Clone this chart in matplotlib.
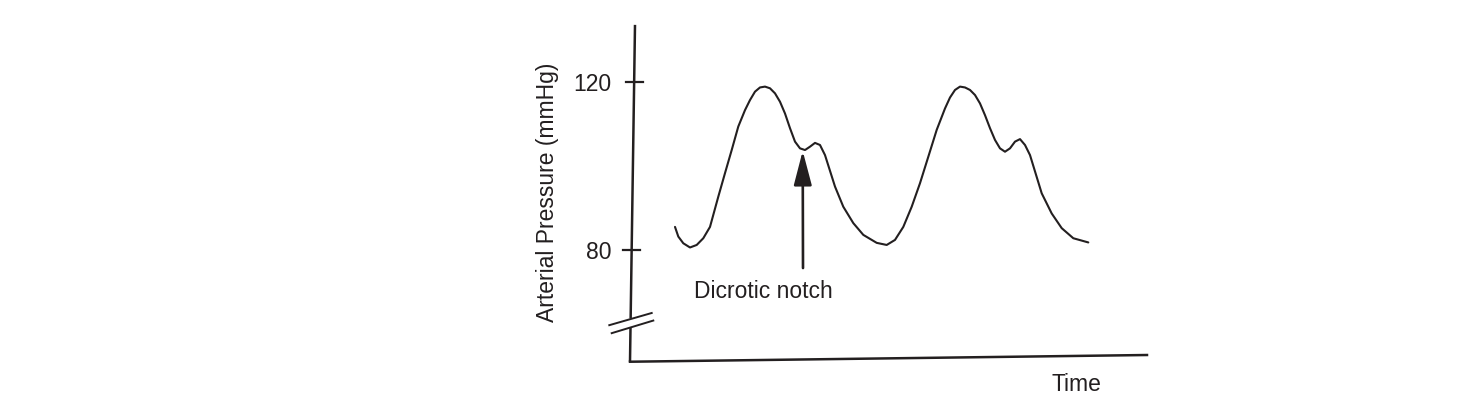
import matplotlib
matplotlib.use("Agg")
import matplotlib.pyplot as plt

plt.rcParams['font.family'] = ['Liberation Sans', 'DejaVu Sans']

# ---- data (time in arbitrary units, pressure in mmHg) ----
time = [0.45, 0.483, 0.533, 0.60, 0.667, 0.733, 0.80, 0.883, 0.95, 1.017,
        1.083, 1.15, 1.20, 1.25, 1.30, 1.35, 1.40, 1.45, 1.50,
        1.55, 1.60, 1.65, 1.70, 1.75, 1.80, 1.85, 1.90, 1.95, 2.05,
        2.133, 2.233, 2.333, 2.467, 2.567, 2.65, 2.733, 2.817, 2.90, 2.983,
        3.067, 3.15, 3.20, 3.25, 3.30, 3.35, 3.40, 3.45, 3.50,
        3.55, 3.60, 3.65, 3.70, 3.75, 3.80, 3.85, 3.90, 3.95, 4.00,
        4.117, 4.217, 4.317, 4.433, 4.583]
pressure = [85.5, 83.2, 81.6, 80.6, 81.2, 82.8, 85.5, 92.7, 98.3, 103.8,
            109.4, 113.3, 115.7, 117.7, 118.7, 118.9, 118.5, 117.3, 115.3,
            112.5, 109.0, 105.8, 104.2, 103.8, 104.6, 105.5, 105.0, 102.6, 95.1,
            90.3, 86.4, 83.6, 81.7, 81.2, 82.4, 85.5, 90.3, 95.9, 102.2,
            108.6, 113.7, 116.3, 118.1, 118.9, 118.7, 118.1, 116.9, 114.9,
            112.1, 109.0, 106.2, 104.2, 103.4, 104.2, 105.8, 106.4, 105.0, 102.6,
            93.5, 88.7, 85.2, 82.8, 81.8]
y_ticks = [80, 120]
y_tick_labels = ["80", "120"]
notch_time = 1.727
notch_pressure = 103.6
y_label = "Arterial Pressure (mmHg)"
x_label = "Time"
annotation = "Dicrotic notch"

ink = '#231f20'
fs = 16.5

fig = plt.figure(figsize=(14.64, 4.12), dpi=100)
ax = fig.add_axes([0, 0, 1, 1])
ax.set_xlim(-6.30, 8.34)
ax.set_ylim(41.43, 139.52)
ax.axis('off')

# hand-drawn style axes (slightly slanted)
ax_top = (0.05, 133.6)
ax_bot = (0.0, 53.4)
def axis_t(v):
    return ax_bot[0] + (v - ax_bot[1]) / (ax_top[1] - ax_bot[1]) * (ax_top[0] - ax_bot[0])

ax.plot([ax_top[0], axis_t(63.7)], [ax_top[1], 63.7], color=ink, lw=1.8, solid_capstyle='butt')
ax.plot([axis_t(61.6), ax_bot[0]], [61.6, ax_bot[1]], color=ink, lw=1.8, solid_capstyle='butt')
ax.plot([ax_bot[0], 5.17], [ax_bot[1], 55.0], color=ink, lw=1.8, solid_capstyle='projecting')

# axis break marks
ax.plot([-0.207, 0.217], [62.1, 65.0], color=ink, lw=1.4)
ax.plot([-0.183, 0.233], [60.2, 63.2], color=ink, lw=1.4)

# ticks and labels
for v, lab in zip(y_ticks, y_tick_labels):
    xt = axis_t(v)
    ax.plot([xt - 0.085, xt + 0.085], [v, v], color=ink, lw=1.6)
    ax.text(-0.185, v - 0.6, lab, ha='right', va='center', fontsize=fs, color=ink)

# waveform
ax.plot(time, pressure, color=ink, lw=1.5, solid_joinstyle='round', solid_capstyle='round')

# annotation arrow
ax.annotate("", xy=(notch_time, notch_pressure), xytext=(notch_time + 0.003, 75.7),
            arrowprops=dict(arrowstyle='-|>,head_length=2.1,head_width=0.55',
                            mutation_scale=10, color=ink, lw=1.9,
                            shrinkA=0, shrinkB=0))
ax.text(1.33, 70.0, annotation, ha='center', va='center', fontsize=fs, color=ink)

ax.text(-0.82, 93.7, y_label, ha='center', va='center', rotation=90, fontsize=fs, color=ink)
ax.text(4.46, 47.86, x_label, ha='center', va='center', fontsize=fs, color=ink)

fig.savefig("out.png", dpi=100)
